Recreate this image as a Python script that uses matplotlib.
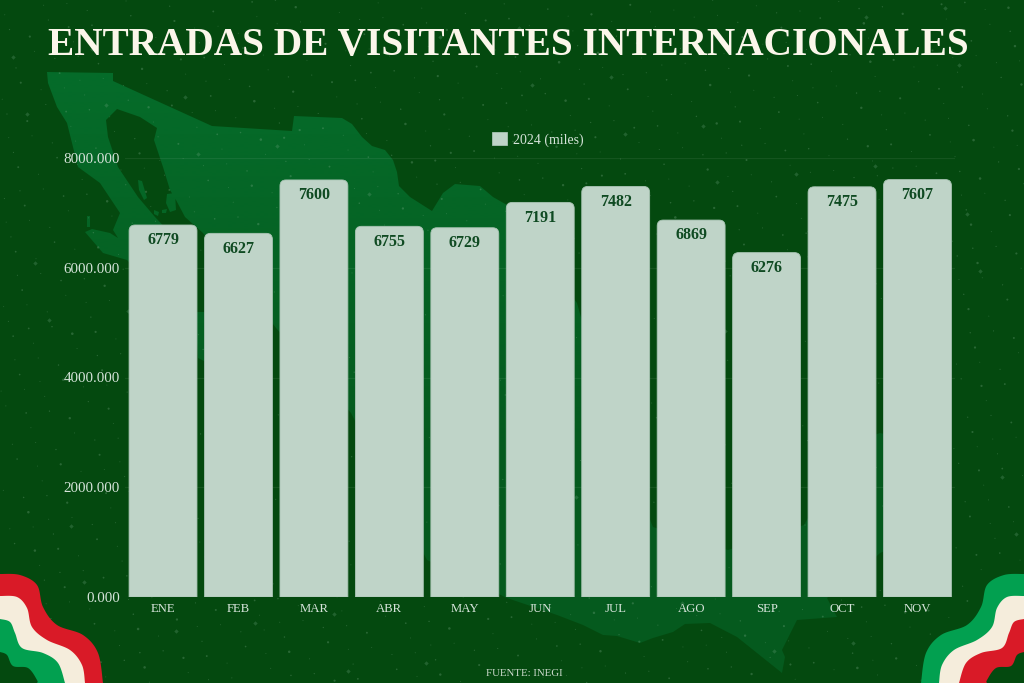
import numpy as np
import matplotlib
matplotlib.use("Agg")
import matplotlib.pyplot as plt
from matplotlib.path import Path
from matplotlib.patches import PathPatch, Polygon, Patch
from matplotlib.ticker import FuncFormatter

# ---- data ----
months = ["ENE", "FEB", "MAR", "ABR", "MAY", "JUN", "JUL", "AGO", "SEP", "OCT", "NOV"]
visitors = [6779, 6627, 7600, 6755, 6729, 7191, 7482, 6869, 6276, 7475, 7607]
y_ticks = [0, 2000, 4000, 6000, 8000]
series_label = "2024 (miles)"
title = "ENTRADAS DE VISITANTES INTERNACIONALES"
source = "FUENTE: INEGI"

# ---- colours ----
BG = "#04490f"
BAR = "#bfd4c8"
BAR_EDGE = "#a9c4b4"
TEXT = "#d6e4da"
VALUE = "#0f4a22"
RED, CREAM, GREEN = "#d91a27", "#f5eddc", "#02a050"
W, H = 1024, 683
SERIF = ["Liberation Serif", "DejaVu Serif"]

fig = plt.figure(figsize=(W / 100, H / 100), dpi=100, facecolor=BG)

# ---- decorative background, pixel coordinates ----
bg = fig.add_axes([0, 0, 1, 1], zorder=0)
bg.set_xlim(0, W)
bg.set_ylim(H, 0)
bg.axis("off")

mexico = [(47, 72), (113, 73), (113, 81), (212, 126), (292, 131), (294, 116), (342, 118), (352, 124),
          (362, 137), (372, 146), (385, 150), (393, 160), (397, 172), (399, 186), (410, 197), (432, 211),
          (443, 193), (455, 184), (480, 186), (493, 197), (507, 205), (560, 280), (577, 303), (610, 420),
          (653, 527), (728, 550), (804, 525), (835, 470), (860, 440), (880, 433), (915, 440), (925, 500),
          (900, 545), (880, 553), (860, 572), (827, 598), (837, 617), (797, 620), (782, 650), (785, 657),
          (782, 673), (737, 637), (710, 623), (685, 624), (673, 632), (653, 638), (640, 643), (617, 636),
          (603, 635), (583, 625), (557, 615), (507, 598), (427, 560), (351, 413), (276, 328), (203, 233),
          (185, 217), (176, 200), (170, 190), (163, 167), (154, 140), (157, 128), (140, 117), (117, 109),
          (106, 120), (108, 137), (118, 167), (138, 197), (155, 217), (172, 235), (175, 270), (150, 285),
          (127, 260), (103, 253), (85, 232), (92, 229), (110, 233), (118, 238), (113, 230), (120, 213),
          (100, 183), (78, 167), (72, 143), (67, 123), (57, 107), (48, 83)]
islands = [[(138, 180), (142, 181), (147, 198), (144, 200), (139, 190)],
           [(167, 194), (175, 193), (176, 210), (170, 212), (166, 203)],
           [(154, 210), (159, 212), (158, 216), (154, 214)],
           [(162, 210), (167, 209), (166, 213), (162, 213)],
           [(87, 216), (90, 216), (90, 227), (87, 227)],
           [(195, 312), (212, 312), (212, 365), (198, 358)]]
ramp = np.linspace(0, 1, 256)[:, None, None]
grad = (ramp * np.array([5, 90, 30]) + (1 - ramp) * np.array([5, 108, 42])) / 255
im = bg.imshow(grad, extent=[0, W, 450, 70], aspect="auto", zorder=1, interpolation="bilinear")
im2 = bg.imshow(np.array([[[5, 90, 30]]], dtype=np.uint8), extent=[0, W, H, 450], aspect="auto", zorder=1)
bg.set_xlim(0, W)
bg.set_ylim(H, 0)
verts = list(mexico) + [mexico[0]]
codes = [Path.MOVETO] + [Path.LINETO] * (len(mexico) - 1) + [Path.CLOSEPOLY]
for isl in islands:
    verts += list(isl) + [isl[0]]
    codes += [Path.MOVETO] + [Path.LINETO] * (len(isl) - 1) + [Path.CLOSEPOLY]
clip = PathPatch(Path(verts, codes), transform=bg.transData, facecolor="none", edgecolor="none")
bg.add_patch(clip)
im.set_clip_path(clip)
im2.set_clip_path(clip)

# speckled texture from a fixed low-discrepancy sequence
idx = np.arange(1, 1500)
sx = (idx * 0.7548776662) % 1 * W
sy = (idx * 0.5698402910) % 1 * H
ss = 0.5 + 3.0 * ((idx * 0.381966) % 1) ** 4
bg.scatter(sx, sy, s=ss, color="#7fae8c", alpha=0.30, linewidths=0, zorder=2)
idx2 = np.arange(1, 70)
bg.scatter((idx2 * 0.6180339) % 1 * W, (idx2 * 0.4142135) % 1 * H, s=5,
           color="#6fa580", alpha=0.28, linewidths=0, marker="D", zorder=2)


def smooth(pts, n=14):
    p = np.array([pts[0]] + list(pts) + [pts[-1]], float)
    out = []
    for i in range(1, len(p) - 2):
        for t in np.linspace(0, 1, n, endpoint=False):
            a, b, c, d = p[i - 1], p[i], p[i + 1], p[i + 2]
            out.append(0.5 * (2 * b + (c - a) * t + (2 * a - 5 * b + 4 * c - d) * t ** 2
                              + (3 * b - a - 3 * c + d) * t ** 3))
    out.append(p[-2])
    return np.array(out)


band_1 = [(0, 574), (20, 575), (37, 585), (43, 607), (57, 625), (83, 635), (98, 653), (103, 683)]
band_2 = [(0, 596), (17, 597), (27, 608), (32, 627), (47, 640), (70, 650), (82, 665), (85, 683)]
band_3 = [(0, 619), (10, 622), (15, 633), (22, 648), (43, 653), (58, 663), (65, 683)]
band_4 = [(0, 652), (7, 655), (13, 666), (28, 668), (37, 680), (37, 683)]
for band, left_col, right_col in [(band_1, RED, GREEN), (band_2, CREAM, CREAM), (band_3, GREEN, RED), (band_4, BG, BG)]:
    c = smooth(band)
    poly = np.vstack([c, [[0, H], [0, c[0, 1]]]])
    bg.add_patch(Polygon(poly, closed=True, facecolor=left_col, edgecolor="none", zorder=3))
    mir = poly.copy()
    mir[:, 0] = W - mir[:, 0]
    bg.add_patch(Polygon(mir, closed=True, facecolor=right_col, edgecolor="none", zorder=3))

# ---- chart ----
ax = fig.add_axes([125.3 / W, (H - 597) / H, (955.2 - 125.3) / W, (597 - 158) / H], zorder=1)
ax.patch.set_alpha(0)
x = np.arange(len(months))
ax.set_xlim(-0.5, len(months) - 0.5)
ax.set_ylim(0, y_ticks[-1])
ax.set_axisbelow(True)
ax.yaxis.grid(True, color="#ffffff", alpha=0.07, lw=0.9)
ax.xaxis.grid(False)
for s in ["top", "right", "left", "bottom"]:
    ax.spines[s].set_visible(False)

bar_w = 0.9
rx = 6 / 75.45
ry = 6 * y_ticks[-1] / 439
for xi, v in zip(x, visitors):
    l, r = xi - bar_w / 2, xi + bar_w / 2
    path = Path([(l, 0), (l, v - ry), (l, v), (l + rx, v), (r - rx, v), (r, v), (r, v - ry), (r, 0), (l, 0)],
                [Path.MOVETO, Path.LINETO, Path.CURVE3, Path.CURVE3, Path.LINETO, Path.CURVE3, Path.CURVE3,
                 Path.LINETO, Path.CLOSEPOLY])
    ax.add_patch(PathPatch(path, facecolor=BAR, edgecolor=BAR_EDGE, lw=0.6, zorder=3))
    ax.annotate(str(v), (xi, v), xytext=(0, -11), textcoords="offset points", ha="center", va="center",
                family=SERIF, fontweight="bold", fontsize=11.5, color=VALUE, zorder=4)

ax.set_xticks(x, months)
ax.set_yticks(y_ticks)
ax.yaxis.set_major_formatter(FuncFormatter(lambda v, _: f"{v:.3f}"))
ax.tick_params(axis="x", length=0, pad=4.5, labelsize=9.2, labelcolor=TEXT)
ax.tick_params(axis="y", length=0, pad=3.8, labelsize=10.8, labelcolor=TEXT)
for lab in ax.get_xticklabels() + ax.get_yticklabels():
    lab.set_family(SERIF)

ax.legend(handles=[Patch(facecolor=BAR, edgecolor=BAR_EDGE, lw=0.6, label=series_label)],
          loc="center", bbox_to_anchor=(538 / W, (H - 139.5) / H), bbox_transform=fig.transFigure,
          frameon=False, handlelength=1.05, handleheight=1.05, handletextpad=0.45, borderpad=0,
          labelcolor=TEXT, prop={"family": SERIF, "size": 10})

t = fig.text(508 / W, (H - 45) / H, title, ha="center", va="center", family=SERIF, fontweight="bold",
             fontsize=30, color="#fbf6ea", zorder=5)
rend = fig.canvas.get_renderer()
t.set_fontsize(30 * 918 / t.get_window_extent(rend).width)
fig.text(524.5 / W, (H - 673.5) / H, source, ha="center", va="center", family=SERIF, fontsize=7.8,
         color="#cfdccf", zorder=5)

fig.savefig("out.png", dpi=100, facecolor=BG)
